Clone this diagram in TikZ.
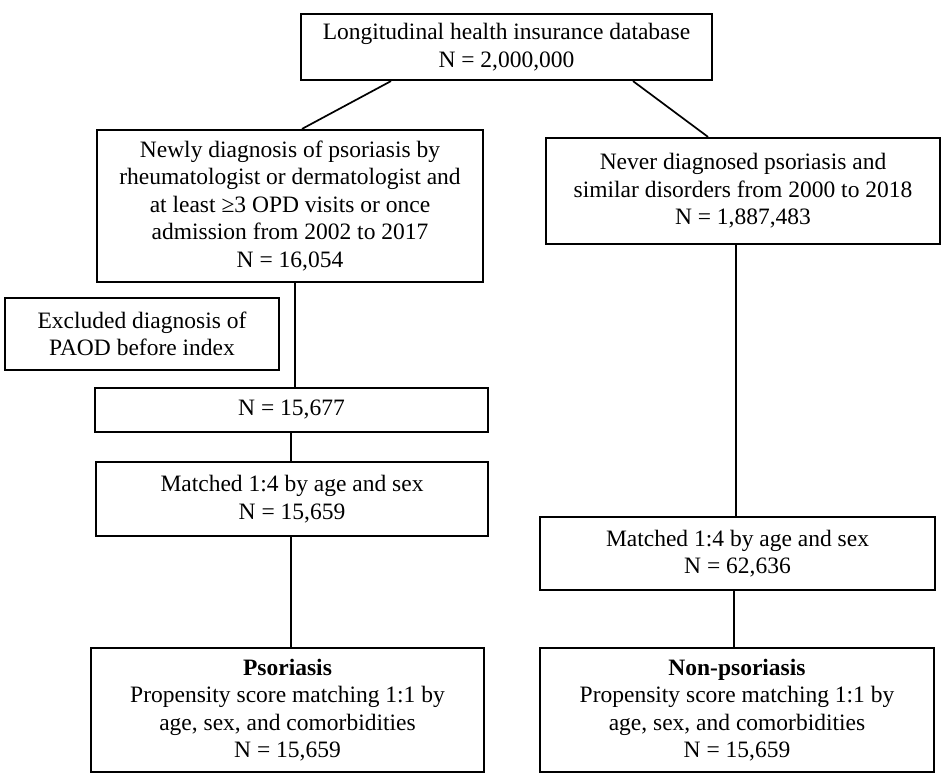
\documentclass[tikz,border=0pt]{standalone}
\usepackage{fontspec}
\setmainfont{Liberation Serif}
\begin{document}
\begin{tikzpicture}[x=1pt,y=-1pt,
  box/.style={draw,line width=2.2pt,align=center,inner sep=0pt,
    font=\fontsize{23.5}{27.5}\selectfont},
  link/.style={line width=1.7pt}]
\useasboundingbox[fill=white] (0,0) rectangle (945,781);
\node[box,minimum width=411pt,minimum height=66pt] (top) at (506.5,47)
  {Longitudinal health insurance database\\N = 2,000,000};
\node[box,minimum width=386pt,minimum height=152pt] (newly) at (290,206)
  {Newly diagnosis of psoriasis by\\rheumatologist or dermatologist and\\at least ≥3 OPD visits or once\\admission from 2002 to 2017\\N = 16,054};
\node[box,minimum width=394pt,minimum height=106pt] (never) at (743,191)
  {Never diagnosed psoriasis and\\similar disorders from 2000 to 2018\\N = 1,887,483};
\node[box,minimum width=274pt,minimum height=72pt] (excl) at (142,334)
  {Excluded diagnosis of\\PAOD before index};
\node[box,minimum width=393pt,minimum height=44pt] (n1) at (291.5,410)
  {N = 15,677};
\node[box,minimum width=392pt,minimum height=74pt] (matchL) at (292,499)
  {Matched 1:4 by age and sex\\N = 15,659};
\node[box,minimum width=393pt,minimum height=124pt] (pso) at (287.5,710)
  {\textbf{Psoriasis}\\Propensity score matching 1:1 by\\age, sex, and comorbidities\\N = 15,659};
\node[box,minimum width=395pt,minimum height=73pt] (matchR) at (737.5,553.5)
  {Matched 1:4 by age and sex\\N = 62,636};
\node[box,minimum width=394pt,minimum height=124pt] (nonpso) at (737,710)
  {\textbf{Non-psoriasis}\\Propensity score matching 1:1 by\\age, sex, and comorbidities\\N = 15,659};
\draw[link] ([xshift=-115.5pt]top.south) -- ([xshift=12pt]newly.north);
\draw[link] ([xshift=126.5pt]top.south) -- ([xshift=-35pt]never.north);
\draw[link] ([xshift=5pt]newly.south) -- ([xshift=5pt]newly.south |- n1.north);
\draw[link] ([xshift=-0.5pt]n1.south) -- ([xshift=-0.5pt]n1.south |- matchL.north);
\draw[link] ([xshift=-1pt]matchL.south) -- ([xshift=-1pt]matchL.south |- pso.north);
\draw[link] ([xshift=-7pt]never.south) -- ([xshift=-7pt]never.south |- matchR.north);
\draw[link] ([xshift=-3.5pt]matchR.south) -- ([xshift=-3.5pt]matchR.south |- nonpso.north);
\end{tikzpicture}
\end{document}
